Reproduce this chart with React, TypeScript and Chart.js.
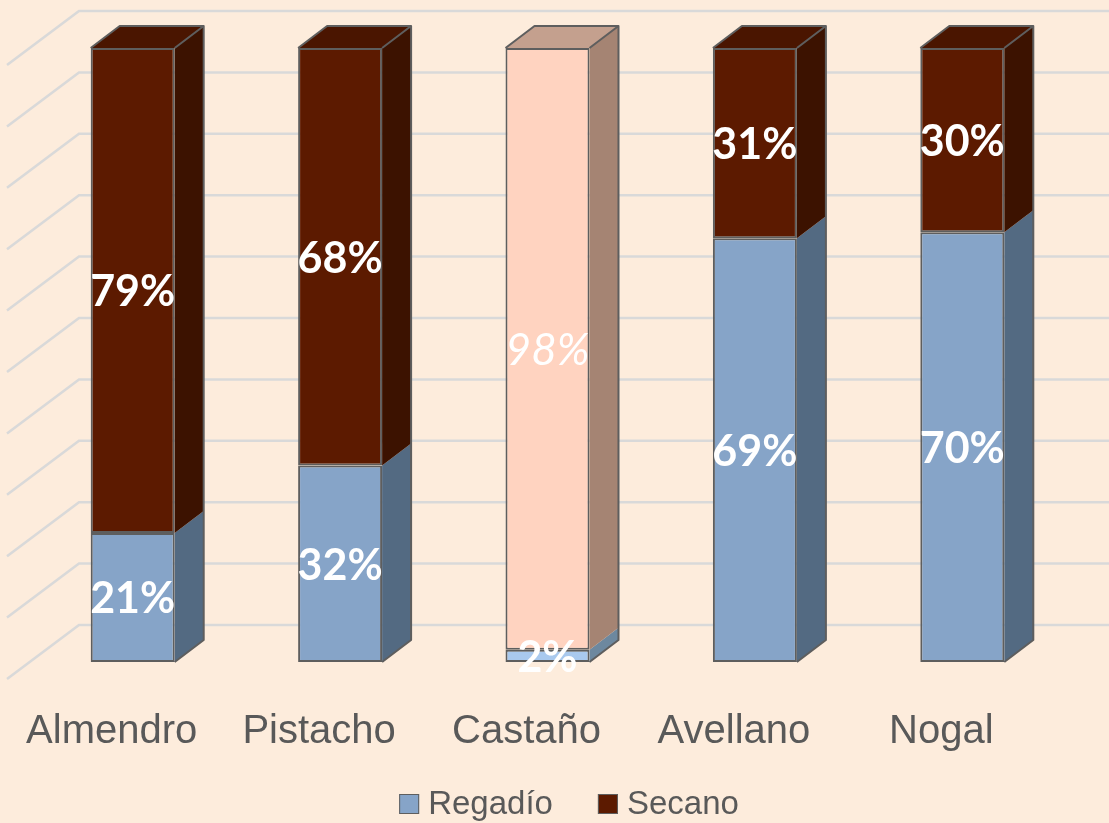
import React, { useEffect, useRef } from "react";
import { Chart, registerables } from "chart.js";

Chart.register(...registerables);

const CATEGORIES = ["Almendro", "Pistacho", "Castaño", "Avellano", "Nogal"];
const SERIES_NAMES = ["Regadío", "Secano"];
const REGADIO = [21, 32, 2, 69, 70];
const SECANO = [79, 68, 98, 31, 30];
const GRID_VALUES = [0, 10, 20, 30, 40, 50, 60, 70, 80, 90, 100];
const LABEL_STYLE = ["normal", "normal", "italic", "normal", "normal"];

// colours per category (front / side / top)
const REG_FRONT = ["#86A4C8", "#86A4C8", "#A9C9EE", "#86A4C8", "#86A4C8"];
const REG_SIDE = ["#536A82", "#536A82", "#6D889F", "#536A82", "#536A82"];
const REG_TOP = ["#6E8AAE", "#6E8AAE", "#8FAED0", "#6E8AAE", "#6E8AAE"];
const SEC_FRONT = ["#5C1A00", "#5C1A00", "#FFD3C0", "#5C1A00", "#5C1A00"];
const SEC_SIDE = ["#3C1200", "#3C1200", "#A58473", "#3C1200", "#3C1200"];
const SEC_TOP = ["#4A1500", "#4A1500", "#C4A08E", "#4A1500", "#4A1500"];
const LEGEND_COLORS = ["#86A4C8", "#5C1A00"];

const BG = "#FDECDC";
const EDGE = "#5E5E5E";
const GRID = "#D9D9D9";
const TEXT = "#595959";

const DX = 29; // bar depth (x)
const DY = 22; // bar depth (y)

const threeD = {
  id: "threeD",
  beforeDraw(chart: any) {
    const { ctx, width, height } = chart;
    ctx.save();
    ctx.fillStyle = BG;
    ctx.fillRect(0, 0, width, height);
    ctx.restore();
  },
  beforeDatasetsDraw(chart: any) {
    const { ctx, chartArea } = chart;
    const y = chart.scales.y;
    const wallFrontX = chartArea.left - 22;
    const wallBackX = wallFrontX + 72;
    ctx.save();
    ctx.strokeStyle = GRID;
    ctx.lineWidth = 2.5;
    GRID_VALUES.forEach((v) => {
      const py = y.getPixelForValue(v);
      ctx.beginPath();
      ctx.moveTo(wallFrontX, py + 17);
      ctx.lineTo(wallBackX, py - 37);
      ctx.lineTo(chart.width, py - 37);
      ctx.stroke();
    });
    ctx.restore();
  },
  afterDatasetsDraw(chart: any) {
    const { ctx } = chart;
    const m0 = chart.getDatasetMeta(0);
    const m1 = chart.getDatasetMeta(1);
    const sides = [REG_SIDE, SEC_SIDE];
    const tops = [REG_TOP, SEC_TOP];
    ctx.save();
    for (let i = 0; i < CATEGORIES.length; i++) {
      const bars = [m0.data[i], m1.data[i]];
      let topY = Infinity;
      let botY = -Infinity;
      let left = 0;
      let right = 0;
      let topIdx = 0;
      bars.forEach((b: any, k: number) => {
        const p = b.getProps(["x", "y", "base", "width"], true);
        left = p.x - p.width / 2;
        right = p.x + p.width / 2;
        const t = Math.min(p.y, p.base);
        const bt = Math.max(p.y, p.base);
        ctx.fillStyle = sides[k][i];
        ctx.beginPath();
        ctx.moveTo(right, t);
        ctx.lineTo(right + DX, t - DY);
        ctx.lineTo(right + DX, bt - DY);
        ctx.lineTo(right, bt);
        ctx.closePath();
        ctx.fill();
        if (t < topY) {
          topY = t;
          topIdx = k;
        }
        if (bt > botY) botY = bt;
      });
      // top face
      ctx.fillStyle = tops[topIdx][i];
      ctx.beginPath();
      ctx.moveTo(left, topY);
      ctx.lineTo(left + DX, topY - DY);
      ctx.lineTo(right + DX, topY - DY);
      ctx.lineTo(right, topY);
      ctx.closePath();
      ctx.fill();
      // outline
      ctx.strokeStyle = EDGE;
      ctx.lineWidth = 2;
      ctx.lineJoin = "round";
      ctx.beginPath();
      ctx.moveTo(left, topY);
      ctx.lineTo(left + DX, topY - DY);
      ctx.lineTo(right + DX, topY - DY);
      ctx.lineTo(right + DX, botY - DY);
      ctx.lineTo(right, botY);
      ctx.moveTo(right, topY);
      ctx.lineTo(right + DX, topY - DY);
      ctx.stroke();
    }
    // data labels
    ctx.fillStyle = "#FFFFFF";
    ctx.textAlign = "center";
    ctx.textBaseline = "middle";
    [m0, m1].forEach((meta: any, k: number) => {
      const vals = k === 0 ? REGADIO : SECANO;
      meta.data.forEach((b: any, i: number) => {
        const p = b.getProps(["x", "y", "base"], true);
        const italic = LABEL_STYLE[i] === "italic" && k === 1;
        ctx.font = italic ? "italic 400 44px Lato" : "700 43px Lato";
        ctx.fillText(vals[i] + "%", p.x, (p.y + p.base) / 2 + 2);
      });
    });
    ctx.restore();
  },
  afterDraw(chart: any) {
    // legend
    const { ctx } = chart;
    ctx.save();
    ctx.font = "33px 'Liberation Sans'";
    ctx.textBaseline = "middle";
    ctx.textAlign = "left";
    const box = 20;
    const gapText = 9;
    const gapItem = 45;
    const widths = SERIES_NAMES.map((s) => ctx.measureText(s).width);
    const total =
      widths.reduce((a, w) => a + box + gapText + w, 0) + gapItem * (SERIES_NAMES.length - 1);
    let x = 569 - total / 2;
    const cy = 804;
    SERIES_NAMES.forEach((s, i) => {
      ctx.fillStyle = LEGEND_COLORS[i];
      ctx.fillRect(x, cy - box / 2, box, box);
      ctx.strokeStyle = EDGE;
      ctx.lineWidth = 1;
      ctx.strokeRect(x + 0.5, cy - box / 2 + 0.5, box - 1, box - 1);
      ctx.fillStyle = TEXT;
      ctx.fillText(s, x + box + gapText, cy + 1);
      x += box + gapText + widths[i] + gapItem;
    });
    ctx.restore();
  },
};

export default function App() {
  const ref = useRef<HTMLCanvasElement>(null);
  useEffect(() => {
    if (!ref.current) return;
    const chart = new Chart(ref.current, {
      type: "bar",
      data: {
        labels: CATEGORIES,
        datasets: [
          {
            label: SERIES_NAMES[0],
            data: REGADIO,
            backgroundColor: REG_FRONT,
            borderColor: EDGE,
            borderWidth: 2,
            borderSkipped: false,
            barPercentage: 0.81,
            categoryPercentage: 0.5,
          },
          {
            label: SERIES_NAMES[1],
            data: SECANO,
            backgroundColor: SEC_FRONT,
            borderColor: EDGE,
            borderWidth: 2,
            borderSkipped: false,
            barPercentage: 0.81,
            categoryPercentage: 0.5,
          },
        ],
      },
      options: {
        responsive: false,
        animation: false,
        layout: { padding: { top: 48, left: 29, right: 43, bottom: 0 } },
        scales: {
          x: {
            stacked: true,
            grid: { display: false },
            border: { display: false },
            afterFit: (scale: any) => {
              scale.height = 161;
            },
            ticks: {
              color: TEXT,
              font: { family: "Liberation Sans", size: 40 },
              padding: 38,
              labelOffset: -21,
              maxRotation: 0,
            },
          },
          y: {
            stacked: true,
            display: false,
            min: 0,
            max: 100,
          },
        },
        plugins: {
          legend: { display: false },
          tooltip: { enabled: false },
        },
      },
      plugins: [threeD],
    });
    return () => chart.destroy();
  }, []);
  return (
    <div style={{ position: "absolute", left: 0, top: 0, width: 1109, height: 823 }}>
      <canvas ref={ref} width={1109} height={823} />
    </div>
  );
}
